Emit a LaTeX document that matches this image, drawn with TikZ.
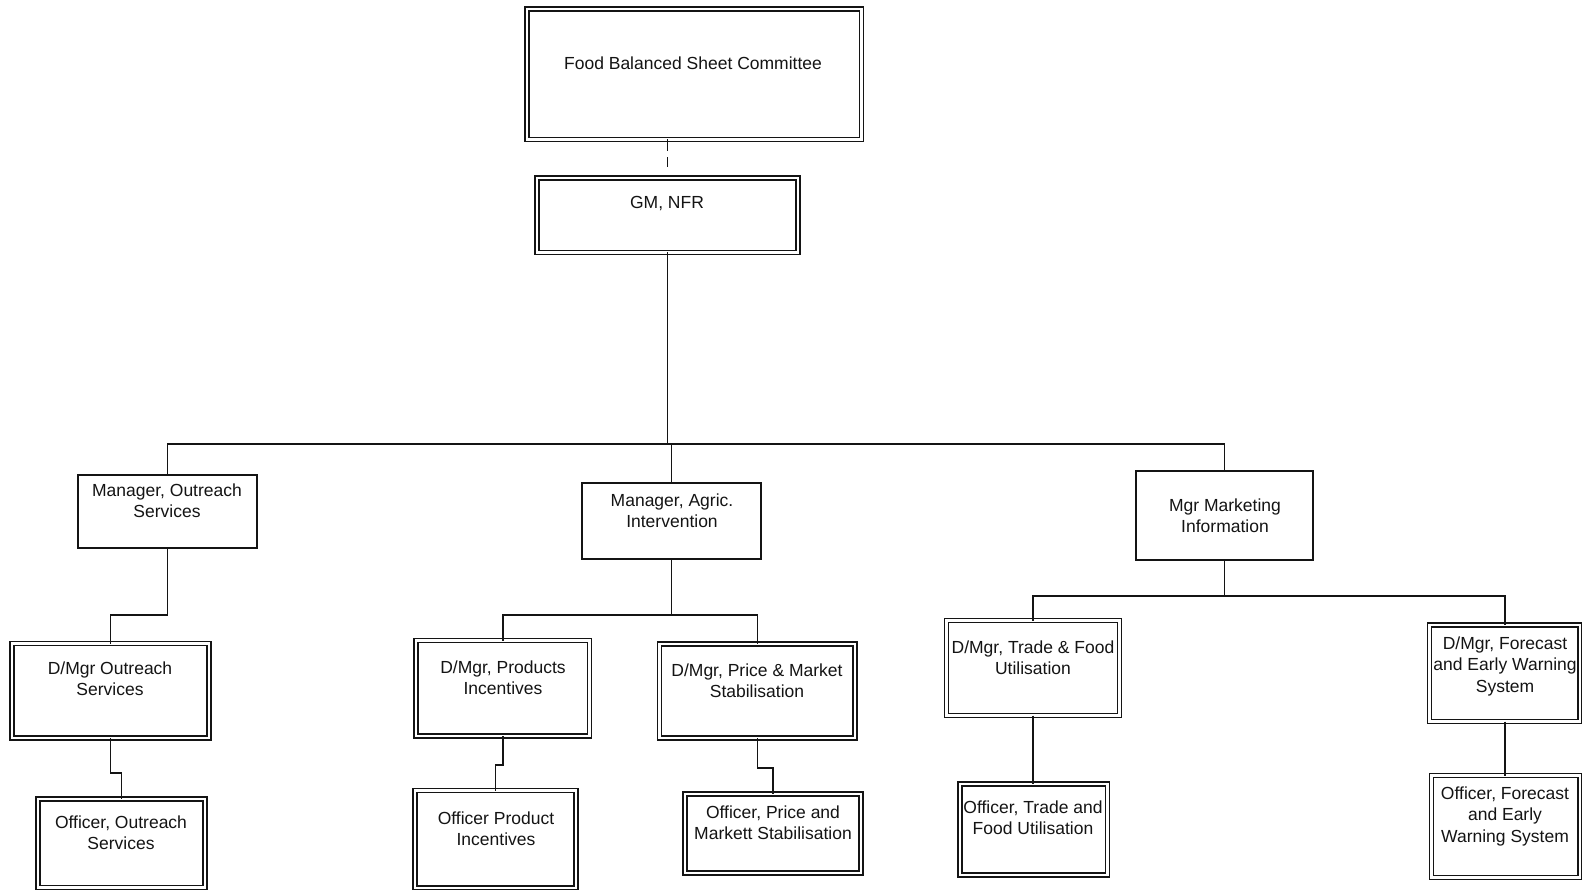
\documentclass[tikz,border=0pt]{standalone}
\usepackage{fontspec}
\setmainfont{Liberation Sans}
\definecolor{ink}{gray}{0.08}
\begin{document}
\begin{tikzpicture}[x=1pt,y=-1pt,
  every node/.style={inner sep=0pt, outer sep=0pt},
  dbox/.style={draw=ink, line width=1.6pt, double=white, double distance=2.4pt, rectangle},
  sbox/.style={draw=ink, line width=1.5pt, rectangle},
  lbl/.style={anchor=north, align=center, text=ink, font=\fontsize{17.5}{21.5}\selectfont},
  conn/.style={draw=ink, line width=1.5pt},
]
\fill[white] (0,0) rectangle (1582,890);
\useasboundingbox (0,0) rectangle (1582,890);

% boxes
\node[dbox, minimum width=334.5pt, minimum height=130.5pt] (fbsc) at (694.25,74.25) {};
\node[dbox, minimum width=261pt, minimum height=74.5pt] (gm) at (667.5,215.25) {};
\node[sbox, minimum width=179pt, minimum height=73pt] (mo) at (167.5,511.5) {};
\node[sbox, minimum width=179pt, minimum height=76pt] (ma) at (671.5,521) {};
\node[sbox, minimum width=177pt, minimum height=89pt] (mm) at (1224.5,515.5) {};
\node[dbox, minimum width=197pt, minimum height=94.5pt] (dmo) at (110.5,690.75) {};
\node[dbox, minimum width=167pt, minimum height=88.5pt] (oo) at (121.5,843.25) {};
\node[dbox, minimum width=173.5pt, minimum height=95.5pt] (dmp) at (502.75,688.25) {};
\node[dbox, minimum width=161pt, minimum height=97.5pt] (op) at (495.5,839.25) {};
\node[dbox, minimum width=195.5pt, minimum height=94pt] (dmpr) at (757.25,691) {};
\node[dbox, minimum width=176pt, minimum height=79pt] (opr) at (773,833.5) {};
\node[dbox, minimum width=173pt, minimum height=95pt] (dmt) at (1033,668) {};
\node[dbox, minimum width=147.5pt, minimum height=91pt] (ot) at (1033.75,829.5) {};
\node[dbox, minimum width=150.5pt, minimum height=96.5pt] (dmf) at (1504.75,673.25) {};
\node[dbox, minimum width=148.5pt, minimum height=102pt] (of) at (1505.75,826.5) {};

% labels
\node[lbl] (fbsc-t) at (693,56.5) {Food Balanced Sheet Committee};
\node[lbl] (gm-t) at (667,196.5) {GM, NFR};
\node[lbl] (mo-t) at (167,483.5) {Manager, Outreach\\Services};
\node[lbl] (ma-t) at (672,493.5) {Manager, Agric.\\Intervention};
\node[lbl] (mm-t) at (1225,498.5) {Mgr Marketing\\Information};
\node[lbl] (dmo-t) at (110,661.5) {D/Mgr Outreach\\Services};
\node[lbl] (oo-t) at (121,815.5) {Officer, Outreach\\Services};
\node[lbl] (dmp-t) at (503,660.5) {D/Mgr, Products\\Incentives};
\node[lbl] (op-t) at (496,811.5) {Officer Product\\Incentives};
\node[lbl] (dmpr-t) at (757,663.5) {D/Mgr, Price \& Market\\Stabilisation};
\node[lbl] (opr-t) at (773,805.5) {Officer, Price and\\Markett Stabilisation};
\node[lbl] (dmt-t) at (1033,640.5) {D/Mgr, Trade \& Food\\Utilisation};
\node[lbl] (ot-t) at (1033,800.5) {Officer, Trade and\\Food Utilisation};
\node[lbl] (dmf-t) at (1505,636.5) {D/Mgr, Forecast\\and Early Warning\\System};
\node[lbl] (of-t) at (1505,786.5) {Officer, Forecast\\and Early\\Warning System};

% connectors
\draw[conn, dash pattern=on 12pt off 6pt on 10pt off 30pt] (gm.north |- fbsc.south) -- (gm.north);
\coordinate (bus) at (667.5,444);
\draw[conn] (gm.south) -- (gm.south |- bus);
\draw[conn] (mo.north) -- (mo.north |- bus) -- (mm.north |- bus) -- (mm.north);
\draw[conn] (ma.north) -- (ma.north |- bus);

\draw[conn] (mo.south) -- ++(0,67) -| (dmo.north);
\draw[conn] (dmo.south) -- ++(0,35) -| (oo.north);

\draw[conn] (ma.south) -- ++(0,56) coordinate (masplit);
\draw[conn] (dmp.north) |- (masplit) -| (dmpr.north);
\draw[conn] (dmp.south) -- ++(0,29) -| (op.north);
\draw[conn] (dmpr.south) -- ++(0,30) -| (opr.north);

\draw[conn] (mm.south) -- ++(0,36) coordinate (mmsplit);
\draw[conn] (dmt.north) |- (mmsplit) -| (dmf.north);
\draw[conn] (dmt.south) -- (dmt.south |- ot.north);
\draw[conn] (dmf.south) -- (dmf.south |- of.north);
\end{tikzpicture}
\end{document}
